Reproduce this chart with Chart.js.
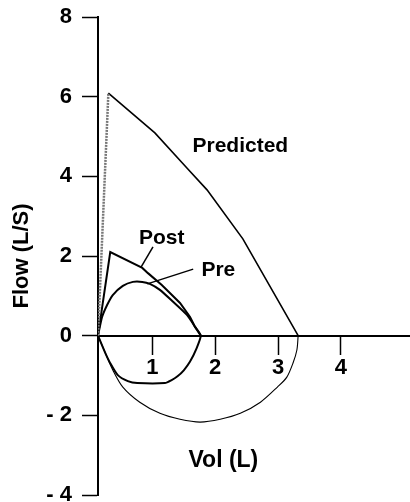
<!DOCTYPE html>
<html>
<head>
<meta charset="utf-8">
<script src="https://cdn.jsdelivr.net/npm/chart.js@4"></script>
<style>
  html, body { margin: 0; padding: 0; background: #fff; }
</style>
</head>
<body>
<canvas id="flowChart" width="410" height="502"></canvas>
<script>
// flow-volume loops, values (vol in L, flow in L/S)
const predRiseVol = [0.135, 0.30];
const predRiseFlow = [0, 6.09];

const predExpVol = [0.30, 1.04, 1.55, 1.87, 2.44, 3.32];
const predExpFlow = [6.09, 5.09, 4.21, 3.66, 2.43, 0];

const predInsVol = [3.32, 3.30, 3.24, 3.14, 2.99, 2.72, 2.40, 2.08, 1.76, 1.44, 1.12, 0.80, 0.53, 0.37, 0.25, 0.135];
const predInsFlow = [0, -0.36, -0.68, -1.04, -1.29, -1.67, -1.95, -2.10, -2.17, -2.10, -1.95, -1.67, -1.29, -0.86, -0.43, 0];

const postVol = [0.135, 0.33, 0.84, 0.93, 1.15, 1.44, 1.60, 1.68, 1.77];
const postFlow = [0, 2.10, 1.70, 1.57, 1.27, 0.82, 0.47, 0.22, 0];

const preVol = [0.135, 0.20, 0.28, 0.37, 0.53, 0.69, 0.84, 0.96, 1.12, 1.33, 1.55, 1.68, 1.77,
                1.70, 1.60, 1.50, 1.40, 1.30, 1.20, 0.76, 0.61, 0.45, 0.33, 0.25, 0.135];
const preFlow = [0, 0.47, 0.77, 1.02, 1.25, 1.35, 1.35, 1.30, 1.15, 0.85, 0.52, 0.22, 0,
                 -0.33, -0.65, -0.87, -1.02, -1.12, -1.19, -1.19, -1.14, -0.99, -0.69, -0.43, 0];

const xTicks = [1, 2, 3, 4];
const yTicks = [-4, -2, 0, 2, 4, 6, 8];

// curve labels and their pointer lines, in data units
const notes = [
    { text: 'Predicted', vol: 2.40, flow: 4.76, size: 21 },
    { text: 'Post', vol: 1.15, flow: 2.45, size: 21 },
    { text: 'Pre', vol: 2.05, flow: 1.65, size: 21 },
    { text: 'Vol (L)', vol: 2.13, flow: -3.15, size: 23 }
];
const leaders = [
    [[1.01, 2.23], [0.82, 1.72]],
    [[1.65, 1.67], [0.92, 1.30]]
];

const FONT = 'Arial, "Liberation Sans", sans-serif';

function pts(xs, ys) {
    return xs.map((v, i) => ({ x: v, y: ys[i] }));
}

const notesPlugin = {
    id: 'notes',
    afterDraw(chart) {
        const { ctx, scales: { x, y } } = chart;
        ctx.save();
        ctx.strokeStyle = '#000';
        ctx.lineWidth = 1.5;
        leaders.forEach(l => {
            ctx.beginPath();
            ctx.moveTo(x.getPixelForValue(l[0][0]), y.getPixelForValue(l[0][1]));
            ctx.lineTo(x.getPixelForValue(l[1][0]), y.getPixelForValue(l[1][1]));
            ctx.stroke();
        });
        ctx.fillStyle = '#000';
        ctx.textAlign = 'center';
        ctx.textBaseline = 'middle';
        notes.forEach(n => {
            ctx.font = 'bold ' + n.size + 'px ' + FONT;
            ctx.fillText(n.text, x.getPixelForValue(n.vol), y.getPixelForValue(n.flow));
        });
        ctx.restore();
    }
};

const ctx = document.getElementById('flowChart').getContext('2d');
const flowChart = new Chart(ctx, {
    type: 'scatter',
    data: {
        datasets: [
            {
                label: 'Predicted rise',
                data: pts(predRiseVol, predRiseFlow),
                borderColor: '#777',
                borderWidth: 2.5,
                borderDash: [2, 1],
                tension: 0
            },
            {
                label: 'Predicted',
                data: pts(predExpVol, predExpFlow),
                borderColor: '#000',
                borderWidth: 1.6,
                tension: 0
            },
            {
                label: 'Predicted insp',
                data: pts(predInsVol, predInsFlow),
                borderColor: '#000',
                borderWidth: 1.1,
                tension: 0.3
            },
            {
                label: 'Post',
                data: pts(postVol, postFlow),
                borderColor: '#000',
                borderWidth: 2,
                tension: 0
            },
            {
                label: 'Pre',
                data: pts(preVol, preFlow),
                borderColor: '#000',
                borderWidth: 2,
                tension: 0.2
            }
        ]
    },
    options: {
        responsive: false,
        animation: false,
        showLine: true,
        elements: { point: { radius: 0 } },
        layout: { padding: { top: 17, bottom: 7, left: 0, right: 0 } },
        plugins: {
            legend: { display: false },
            tooltip: { enabled: false }
        },
        scales: {
            x: {
                type: 'linear',
                position: { y: 0 },
                min: 0.135,
                max: 5.1,
                afterBuildTicks: s => { s.ticks = xTicks.map(v => ({ value: v })); },
                afterFit: s => { s.height = 0; s.paddingLeft = 0; s.paddingRight = 0; },
                grid: {
                    drawOnChartArea: false,
                    drawTicks: true,
                    tickLength: 18,
                    tickColor: '#000',
                    tickWidth: 1.5
                },
                border: { display: true, color: '#000', width: 2 },
                ticks: {
                    color: '#000',
                    padding: 1,
                    maxRotation: 0,
                    font: { family: FONT, size: 22, weight: 'bold' }
                }
            },
            y: {
                type: 'linear',
                position: 'left',
                min: -4,
                max: 8,
                afterBuildTicks: s => { s.ticks = yTicks.map(v => ({ value: v })); },
                afterFit: s => { s.width = 98; s.paddingTop = 0; s.paddingBottom = 0; },
                grid: {
                    drawOnChartArea: false,
                    drawTicks: true,
                    tickLength: 16,
                    tickColor: '#000',
                    tickWidth: 1.5
                },
                border: { display: true, color: '#000', width: 2 },
                ticks: {
                    color: '#000',
                    padding: 10,
                    font: { family: FONT, size: 22, weight: 'bold' },
                    callback: v => v < 0 ? '- ' + Math.abs(v) : String(v)
                },
                title: {
                    display: true,
                    text: 'Flow (L/S)',
                    color: '#000',
                    padding: { top: 9, bottom: 0 },
                    font: { family: FONT, size: 22, weight: 'bold' }
                }
            }
        }
    },
    plugins: [notesPlugin]
});
</script>
</body>
</html>
